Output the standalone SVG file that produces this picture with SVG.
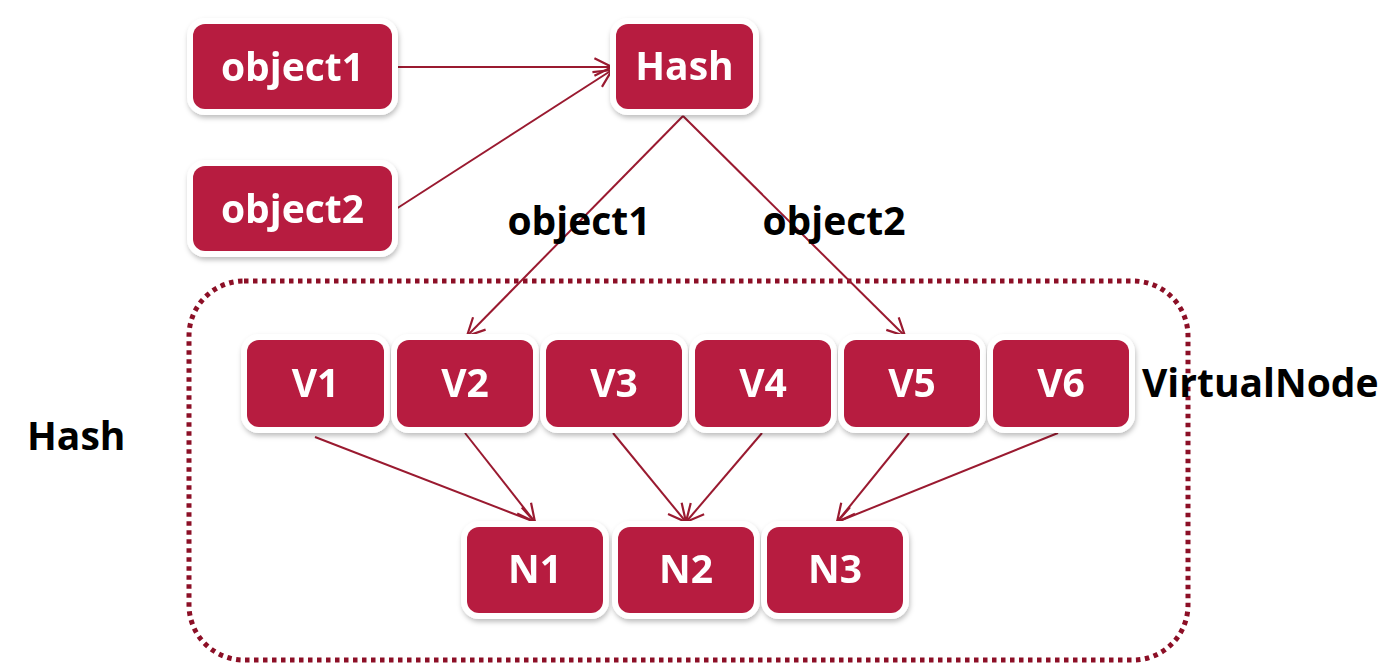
<svg xmlns="http://www.w3.org/2000/svg" width="1387" height="663" viewBox="0 0 1387 663">
  <style>
    .box rect { fill: #b71e3f; stroke: #ffffff; stroke-width: 12; paint-order: stroke; }
    .box text { fill: #ffffff; font-family: "Open Sans", "Noto Sans", sans-serif; font-weight: 700; font-size: 39px; text-anchor: middle; }
    .lbl { fill: #000000; font-family: "Open Sans", "Noto Sans", sans-serif; font-weight: 700; font-size: 39px; }
    .conn line { stroke: #9a1a30; stroke-width: 2; marker-end: url(#arr); }
    .frame { fill: none; stroke: #8c0f26; stroke-width: 5; stroke-dasharray: 4.5 4.5; }
  </style>
  <defs>
    <filter id="sh" x="-20%" y="-20%" width="140%" height="150%">
      <feDropShadow dx="1" dy="3" stdDeviation="2.5" flood-color="#000" flood-opacity="0.25"/>
    </filter>
    <marker id="arr" viewBox="0 0 20 20" refX="18" refY="10" markerWidth="22" markerHeight="22" markerUnits="userSpaceOnUse" orient="auto">
      <path d="M2,2 L18,10 L2,18" fill="none" stroke="#9a1a30" stroke-width="2"/>
    </marker>
  </defs>
  <rect width="1387" height="663" fill="#ffffff"/>

  <rect class="frame" x="189" y="281" width="999" height="379" rx="55" ry="55"/>

  <g id="connectors" class="conn">
    <line x1="396" y1="67" x2="612" y2="67"/>
    <line x1="396" y1="209" x2="612" y2="70"/>
    <line x1="683" y1="116" x2="467" y2="336"/>
    <line x1="683" y1="116" x2="905" y2="336"/>
    <line x1="315" y1="437" x2="535" y2="522"/>
    <line x1="465" y1="433" x2="535" y2="522"/>
    <line x1="613" y1="433" x2="686" y2="522"/>
    <line x1="762" y1="433" x2="686" y2="522"/>
    <line x1="909" y1="433" x2="837" y2="522"/>
    <line x1="1058" y1="433" x2="837" y2="522"/>
  </g>

  <g id="object1" class="box" filter="url(#sh)"><rect x="193" y="24" width="199" height="85" rx="12"/><text x="292.5" y="81">object1</text></g>
  <g id="object2" class="box" filter="url(#sh)"><rect x="193" y="166" width="199" height="85" rx="12"/><text x="292.5" y="223">object2</text></g>
  <g id="hash" class="box" filter="url(#sh)"><rect x="616" y="24" width="137" height="85" rx="12"/><text x="684.5" y="80">Hash</text></g>

  <g id="v1" class="box" filter="url(#sh)"><rect x="247" y="340" width="137" height="87" rx="12"/><text x="315.5" y="397">V1</text></g>
  <g id="v2" class="box" filter="url(#sh)"><rect x="397" y="340" width="136" height="87" rx="12"/><text x="465" y="397">V2</text></g>
  <g id="v3" class="box" filter="url(#sh)"><rect x="546" y="340" width="136" height="87" rx="12"/><text x="614" y="397">V3</text></g>
  <g id="v4" class="box" filter="url(#sh)"><rect x="695" y="340" width="136" height="87" rx="12"/><text x="763" y="397">V4</text></g>
  <g id="v5" class="box" filter="url(#sh)"><rect x="844" y="340" width="136" height="87" rx="12"/><text x="912" y="397">V5</text></g>
  <g id="v6" class="box" filter="url(#sh)"><rect x="993" y="340" width="136" height="87" rx="12"/><text x="1061" y="397">V6</text></g>

  <g id="n1" class="box" filter="url(#sh)"><rect x="467" y="527" width="136" height="86" rx="12"/><text x="535" y="583">N1</text></g>
  <g id="n2" class="box" filter="url(#sh)"><rect x="618" y="527" width="136" height="86" rx="12"/><text x="686" y="583">N2</text></g>
  <g id="n3" class="box" filter="url(#sh)"><rect x="767" y="527" width="136" height="86" rx="12"/><text x="835" y="583">N3</text></g>

  <g id="labels">
    <text class="lbl" x="579" y="235" text-anchor="middle">object1</text>
    <text class="lbl" x="834" y="235" text-anchor="middle">object2</text>
    <text class="lbl" x="1142" y="397">VirtualNode</text>
    <text class="lbl" x="27" y="450">Hash</text>
  </g>
</svg>
